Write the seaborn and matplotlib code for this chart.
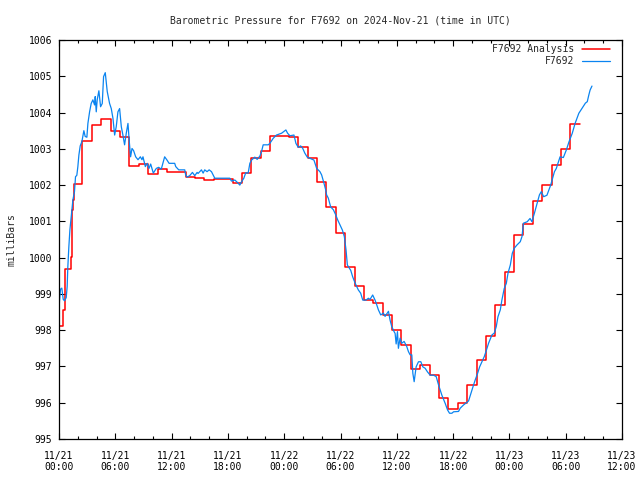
import numpy as np
import pandas as pd
import matplotlib
matplotlib.use("Agg")
import matplotlib.pyplot as plt
import matplotlib.dates as mdates
import seaborn as sns

# Time origin of the chart (UTC)
start = pd.Timestamp("2024-11-21 00:00")

# Analysis series: hours after start where each step begins, and its value (mb)
analysis_hours = [0, 0.4, 0.6, 1.25, 1.35, 1.45, 1.55,
                  2.5, 3.5, 4.5, 5.5, 6.5, 7.5, 8.5, 9.5, 10.5, 11.5,
                  12.5, 13.5, 14.5, 15.5, 16.5, 17.5, 18.5, 19.5, 20.5, 21.5,
                  22.5, 23.5, 24.5, 25.5, 26.5, 27.5, 28.5, 29.5, 30.5, 31.5,
                  32.5, 33.5, 34.5, 35.5, 36.5, 37.5, 38.5, 39.5, 40.5, 41.5,
                  42.5, 43.5, 44.5, 45.5, 46.5, 47.5, 48.5, 49.5, 50.5, 51.5,
                  52.5, 53.5, 54.5, 55.5]
analysis_mb = [998.12, 998.56, 999.68, 1000.03, 1001.31, 1001.59, 1002.03,
               1003.22, 1003.65, 1003.81, 1003.50, 1003.33, 1002.53, 1002.57, 1002.31, 1002.44, 1002.35,
               1002.35, 1002.23, 1002.19, 1002.13, 1002.17, 1002.17, 1002.05, 1002.34, 1002.74, 1002.95,
               1003.35, 1003.35, 1003.33, 1003.06, 1002.76, 1002.08, 1001.39, 1000.67, 999.73, 999.23,
               998.83, 998.76, 998.42, 998.01, 997.58, 996.92, 997.03, 996.76, 996.12, 995.82,
               996.00, 996.49, 997.18, 997.85, 998.70, 999.60, 1000.62, 1000.93, 1001.56, 1002.00,
               1002.55, 1002.99, 1003.68, 1003.68]

# Station observations: hours after start and pressure (mb)
station_hours = [0.0, 0.05, 0.16, 0.3, 0.45, 0.59, 0.77, 0.87, 0.94, 1.05,
                 1.16, 1.3, 1.48, 1.65, 1.76, 1.9, 2.01, 2.12, 2.26, 2.44,
                 2.65, 2.79, 2.97, 3.08, 3.26, 3.43, 3.61, 3.79, 3.86, 3.97,
                 4.07, 4.25, 4.43, 4.61, 4.75, 4.93, 5.14, 5.39, 5.57, 5.75,
                 5.93, 6.1, 6.28, 6.46, 6.64, 6.81, 6.99, 7.17, 7.35, 7.49,
                 7.63, 7.78, 7.95, 8.17, 8.42, 8.67, 8.84, 8.95, 9.2, 9.41,
                 9.59, 9.77, 10.05, 10.37, 10.62, 10.9, 11.26, 11.51, 11.73, 12.33,
                 12.44, 12.76, 13.4, 13.5, 13.65, 13.93, 14.22, 14.47, 14.72, 14.82,
                 15.0, 15.18, 15.36, 15.53, 15.78, 16.0, 16.25, 16.42, 16.6, 18.2,
                 18.38, 18.74, 19.1, 19.27, 19.45, 19.7, 19.9, 20.16, 20.34, 20.52,
                 20.87, 21.12, 21.41, 21.58, 21.76, 22.3, 22.47, 22.83, 23.18, 23.72,
                 24.18, 24.36, 24.61, 25.04, 25.25, 25.5, 25.75, 25.96, 26.2, 26.46,
                 26.92, 27.17, 27.46, 27.81, 27.99, 28.24, 28.42, 28.52, 28.7, 28.95,
                 29.24, 29.49, 29.7, 29.95, 30.2, 30.41, 30.59, 30.73, 30.84, 31.09,
                 31.3, 31.48, 31.66, 31.9, 32.15, 32.37, 32.72, 32.97, 33.15, 33.43,
                 33.68, 33.86, 34.04, 34.29, 34.57, 34.75, 35.11, 35.28, 35.46, 35.71,
                 35.82, 35.93, 36.07, 36.17, 36.35, 36.53, 36.78, 37.06, 37.24, 37.42,
                 37.6, 37.71, 37.85, 38.06, 38.31, 38.56, 38.77, 39.02, 39.27, 39.56,
                 39.91, 40.2, 40.45, 40.8, 41.16, 41.41, 41.62, 41.87, 42.05, 42.58,
                 42.76, 43.12, 43.47, 43.65, 43.9, 44.18, 44.36, 44.61, 44.83, 45.07,
                 45.32, 45.5, 45.78, 46.14, 46.39, 46.6, 46.78, 47.03, 47.2, 47.45,
                 47.67, 47.85, 48.1, 48.31, 48.52, 48.81, 49.16, 49.34, 49.5, 49.9,
                 50.2, 50.4, 50.66, 50.95, 51.2, 51.4, 51.65, 52.0, 52.4, 52.8,
                 53.0, 53.4, 53.75, 54.07, 54.36, 54.7, 55.0, 55.4, 55.75, 56.1,
                 56.3, 56.46, 56.6, 56.8]
station_mb = [998.5, 998.8, 999.13, 999.16, 998.85, 998.81, 998.9, 999.2, 999.74, 1000.30,
              1000.76, 1001.13, 1001.59, 1001.82, 1002.23, 1002.27, 1002.51, 1002.83, 1003.08, 1003.2,
              1003.50, 1003.34, 1003.32, 1003.70, 1004.02, 1004.25, 1004.35, 1004.21, 1004.44, 1004.02,
              1004.35, 1004.60, 1004.16, 1004.25, 1004.99, 1005.10, 1004.58, 1004.25, 1004.11, 1003.84,
              1003.38, 1003.61, 1004.02, 1004.11, 1003.61, 1003.38, 1003.11, 1003.43, 1003.70, 1003.2,
              1002.78, 1003.01, 1002.95, 1002.78, 1002.70, 1002.78, 1002.70, 1002.78, 1002.51, 1002.60,
              1002.46, 1002.58, 1002.33, 1002.46, 1002.49, 1002.44, 1002.78, 1002.69, 1002.60, 1002.60,
              1002.51, 1002.42, 1002.42, 1002.28, 1002.22, 1002.26, 1002.35, 1002.26, 1002.35, 1002.32,
              1002.37, 1002.42, 1002.33, 1002.42, 1002.37, 1002.42, 1002.37, 1002.28, 1002.19, 1002.19,
              1002.11, 1002.14, 1002.05, 1002.0, 1002.09, 1002.19, 1002.34, 1002.33, 1002.60, 1002.69,
              1002.77, 1002.71, 1002.80, 1002.92, 1003.11, 1003.11, 1003.15, 1003.29, 1003.38, 1003.43,
              1003.52, 1003.43, 1003.36, 1003.38, 1003.15, 1003.04, 1003.08, 1003.02, 1002.88, 1002.77,
              1002.72, 1002.69, 1002.46, 1002.37, 1002.28, 1002.05, 1001.87, 1001.73, 1001.64, 1001.40,
              1001.32, 1001.18, 1001.04, 1000.90, 1000.76, 1000.58, 1000.21, 999.80, 999.75, 999.65,
              999.47, 999.35, 999.24, 999.11, 999.02, 998.83, 998.83, 998.88, 998.85, 998.97,
              998.83, 998.70, 998.56, 998.42, 998.47, 998.38, 998.52, 998.28, 998.10, 997.96,
              997.91, 997.62, 997.96, 997.50, 997.78, 997.64, 997.69, 997.55, 997.41, 997.32,
              997.32, 996.81, 996.58, 996.99, 997.13, 997.13, 996.99, 996.95, 996.85, 996.76,
              996.76, 996.72, 996.49, 996.21, 995.98, 995.80, 995.71, 995.71, 995.75, 995.76,
              995.85, 995.94, 996.01, 996.05, 996.26, 996.49, 996.63, 996.81, 996.99, 997.13,
              997.27, 997.41, 997.64, 997.87, 997.92, 998.10, 998.37, 998.56, 998.83, 999.15,
              999.29, 999.57, 999.80, 1000.12, 1000.26, 1000.35, 1000.44, 1000.58, 1000.95, 1000.99,
              1001.08, 1000.99, 1001.22, 1001.50, 1001.73, 1001.82, 1001.68, 1001.72, 1002.0, 1002.37,
              1002.46, 1002.78, 1002.76, 1002.97, 1003.2, 1003.43, 1003.70, 1003.98, 1004.12, 1004.26,
              1004.3, 1004.48, 1004.62, 1004.73]

y_ticks = list(range(995, 1007))

analysis = pd.DataFrame({
    "time": start + pd.to_timedelta(analysis_hours, unit="h"),
    "mb": analysis_mb,
})
station = pd.DataFrame({
    "time": start + pd.to_timedelta(station_hours, unit="h"),
    "mb": station_mb,
})

sns.set_style("ticks")
plt.rcParams['font.family'] = ['DejaVu Sans Mono']
plt.rcParams['font.size'] = 7

fig = plt.figure(figsize=(6.4, 4.8), dpi=100)
ax = fig.add_axes([59 / 640, 1 - 439 / 480, 563 / 640, 399 / 480])

sns.lineplot(data=analysis, x="time", y="mb", ax=ax, color="#ff0000",
             drawstyle="steps-post", linewidth=1.1, estimator=None,
             label="F7692 Analysis")
sns.lineplot(data=station, x="time", y="mb", ax=ax, color="#0a84f0",
             linewidth=0.9, estimator=None, label="F7692")

ax.set_xlim(start, start + pd.Timedelta(hours=60))
ax.set_ylim(995, 1006)
ax.set_yticks(y_ticks)

ax.xaxis.set_major_locator(mdates.HourLocator(byhour=[0, 6, 12, 18]))
ax.xaxis.set_minor_locator(mdates.HourLocator(byhour=range(0, 24, 2)))
ax.xaxis.set_major_formatter(mdates.DateFormatter("%m/%d\n%H:%M"))

ax.tick_params(which="both", direction="in", top=True, right=True,
               colors="black", width=0.8)
ax.tick_params(which="major", length=4.5)
ax.tick_params(which="minor", length=2.3)
ax.tick_params(axis="x", which="major", pad=8.5)
ax.tick_params(axis="y", which="major", pad=5)
for spine in ax.spines.values():
    spine.set_color("black")
    spine.set_linewidth(0.9)

ax.set_xlabel("")
ax.set_ylabel("milliBars", labelpad=9)
ax.set_title("Barometric Pressure for F7692 on 2024-Nov-21 (time in UTC)",
             fontsize=7, pad=12)

ax.legend(loc="upper right", bbox_to_anchor=(0.979, 0.99), frameon=False,
          markerfirst=False, handlelength=2.9, handletextpad=0.8,
          labelspacing=0.25, borderpad=0, borderaxespad=0)

fig.savefig("out.png", dpi=100)
